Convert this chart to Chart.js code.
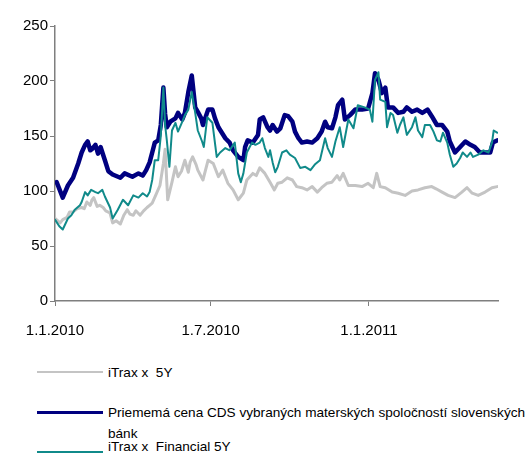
<!DOCTYPE html>
<html>
<head>
<meta charset="utf-8">
<script src="https://cdn.jsdelivr.net/npm/chart.js@4/dist/chart.umd.min.js"></script>
<style>
  html, body { margin: 0; padding: 0; background: #fff; overflow: hidden; }
  #wrap { position: relative; width: 526px; height: 453px; font-family: "Liberation Sans", Arial, sans-serif; }
  #chartBox { position: absolute; left: 0; top: 0; width: 526px; height: 345px; }
  .sw { position: absolute; left: 37px; width: 66px; }
  .tx { position: absolute; left: 108px; font-size: 13.6px; line-height: 21px; color: #000; white-space: pre; }
</style>
</head>
<body>
<div id="wrap">
  <div id="chartBox"><canvas id="c" width="526" height="345"></canvas></div>
  <div id="legend"></div>
</div>
<script>
// ---- data (x = days since 1.1.2010) ----
const tickDays = [0, 181, 365];
const tickLabels = ['1.1.2010', '1.7.2010', '1.1.2011'];
const seriesNames = [
  'iTrax x  5Y',
  'Priememá cena CDS vybraných materských spoločností slovenských bánk',
  'iTrax x  Financial 5Y'
];

const itraxxDays = [0,6,9,14,17,21,26,31,34,37,41,43,45,49,52,56,59,64,67,71,76,80,84,87,91,94,99,103,107,110,113,117,122,126,128,131,136,140,143,147,151,155,157,160,164,166,172,178,184,190,195,201,207,213,216,219,223,230,234,238,244,250,255,259,264,270,276,281,287,293,299,305,310,316,322,328,331,335,341,349,357,364,370,374,378,384,392,399,407,415,422,430,438,443,450,457,465,473,479,485,492,500,508,514];
const itraxxVals = [75,71,74,76,81,81,84,85,84,90,87,92,94,86,87,85,82,80,71,73,70,78,83,79,78,82,78,82,85,87,89,96,105,125,138,92,108,122,113,118,128,117,126,131,124,119,110,128,125,113,119,107,101,92,95,98,110,116,114,121,116,108,101,107,108,112,110,104,103,101,104,99,103,107,108,114,110,116,105,105,104,107,103,116,104,103,99,98,96,100,101,103,104,102,99,96,94,99,103,98,96,99,103,104];

const cdsDays = [2,9,15,21,27,31,35,38,41,43,47,50,53,58,62,67,76,81,90,97,102,106,110,114,116,120,123,126,128,130,134,140,143,148,151,155,159,163,166,170,172,178,183,186,190,194,198,203,207,213,219,221,224,230,236,238,242,247,250,253,258,262,267,271,276,279,283,287,293,299,305,310,314,317,322,326,329,334,337,343,349,357,364,369,372,376,380,384,387,393,399,405,409,415,421,427,433,438,444,450,456,459,465,471,477,483,488,494,500,506,509,514];
const cdsVals = [108,94,105,112,125,135,142,145,137,138,142,134,140,128,118,115,112,116,113,116,114,119,126,138,144,146,160,194,170,158,163,166,171,165,171,190,205,176,172,166,160,174,174,166,158,153,148,144,137,131,128,140,146,144,151,165,167,158,155,160,154,157,169,168,163,154,148,144,145,144,148,154,163,158,157,167,178,183,165,169,174,174,175,189,207,201,189,194,176,176,171,172,176,172,174,171,174,168,160,160,154,145,135,140,145,142,140,135,135,135,144,146];

const finDays = [0,5,9,15,19,23,29,31,35,38,42,47,50,55,58,64,67,73,79,85,91,97,102,107,110,113,116,120,123,126,128,130,133,136,140,143,148,151,155,159,163,166,171,173,177,183,188,192,198,203,209,213,216,219,223,229,233,238,241,244,248,250,253,256,259,264,269,273,279,285,291,297,302,308,314,317,322,326,331,335,341,347,352,360,366,369,372,376,378,384,386,390,393,398,401,405,409,415,419,422,427,430,436,440,444,448,451,456,459,463,467,471,474,479,483,486,492,498,504,508,510,514];
const finVals = [74,68,65,75,78,83,87,90,99,96,101,99,98,101,95,85,75,83,92,87,96,94,98,95,99,110,128,128,150,194,160,146,122,155,162,154,163,169,174,190,171,155,145,140,167,162,131,135,139,137,144,116,108,116,135,144,142,144,148,139,131,137,126,117,122,135,137,133,130,121,122,119,124,128,148,139,131,145,158,140,165,157,178,176,174,163,201,208,183,181,158,171,169,153,160,167,151,158,167,155,149,160,160,154,146,145,153,144,133,122,125,130,135,131,135,131,133,137,135,144,155,153];

const yMin = 0, yMax = 250, yStep = 50;
const xMin = 0, xMax = 515;

function pts(d, v) { return d.map((x, i) => ({ x: x, y: v[i] })); }

const colors = ['#c4c4c4', '#000080', '#108a8a'];
const widths = [3, 4.5, 2];

// wider letter spacing for the y-axis labels (y axis is drawn after the datasets)
const ySpacing = {
  id: 'ySpacing',
  afterDatasetsDraw(chart) { chart.ctx.letterSpacing = '3.5px'; },
  afterDraw(chart) { chart.ctx.letterSpacing = '0px'; }
};

new Chart(document.getElementById('c'), {
  type: 'line',
  data: {
    datasets: [
      { label: seriesNames[0], data: pts(itraxxDays, itraxxVals), borderColor: colors[0], borderWidth: widths[0], order: 3 },
      { label: seriesNames[1], data: pts(cdsDays, cdsVals), borderColor: colors[1], borderWidth: widths[1], order: 2 },
      { label: seriesNames[2], data: pts(finDays, finVals), borderColor: colors[2], borderWidth: widths[2], order: 1 }
    ]
  },
  plugins: [ySpacing],
  options: {
    responsive: false,
    animation: false,
    events: [],
    elements: { point: { radius: 0 }, line: { tension: 0, borderJoinStyle: 'round', borderCapStyle: 'round' } },
    layout: { padding: { top: 26, right: 28, left: 0, bottom: 0 } },
    plugins: { legend: { display: false }, tooltip: { enabled: false } },
    scales: {
      x: {
        type: 'linear', min: xMin, max: xMax,
        afterBuildTicks: s => { s.ticks = tickDays.map(v => ({ value: v })); },
        afterFit: s => { s.height = 44; },
        ticks: {
          autoSkip: false, maxRotation: 0, padding: 16,
          color: '#000', font: { family: '"Liberation Sans", Arial, sans-serif', size: 15 },
          callback: v => { const i = tickDays.indexOf(v); return i >= 0 ? tickLabels[i] : ''; }
        },
        grid: { display: true, drawOnChartArea: false, drawTicks: true, tickLength: 5, color: '#7f7f7f', lineWidth: 1 },
        border: { color: '#7f7f7f', width: 1.5 }
      },
      y: {
        min: yMin, max: yMax, z: 1,
        afterFit: s => { s.width = 55; },
        ticks: {
          stepSize: yStep, padding: 2,
          color: '#000', font: { family: '"Liberation Sans", Arial, sans-serif', size: 15 }
        },
        grid: { display: true, drawOnChartArea: false, drawTicks: true, tickLength: 5, color: '#7f7f7f', lineWidth: 1 },
        border: { color: '#7f7f7f', width: 1.5 }
      }
    }
  }
});

// ---- legend ----
const lg = document.getElementById('legend');
const legendRows = [
  { y: 372, lines: [seriesNames[0]] },
  { y: 412, lines: ['Priememá cena CDS vybraných materských spoločností slovenských', 'bánk'] },
  { y: 452, lines: [seriesNames[2]] }
];
legendRows.forEach((r, i) => {
  const sw = document.createElement('div');
  sw.className = 'sw';
  const h = i === 1 ? 3 : 2;
  sw.style.top = (r.y - h / 2) + 'px';
  sw.style.height = h + 'px';
  sw.style.background = colors[i];
  lg.appendChild(sw);
  const tx = document.createElement('div');
  tx.className = 'tx';
  tx.style.top = (r.y - (i === 2 ? 16 : 10.5)) + 'px';
  tx.textContent = r.lines.join('\n');
  lg.appendChild(tx);
});
</script>
</body>
</html>
